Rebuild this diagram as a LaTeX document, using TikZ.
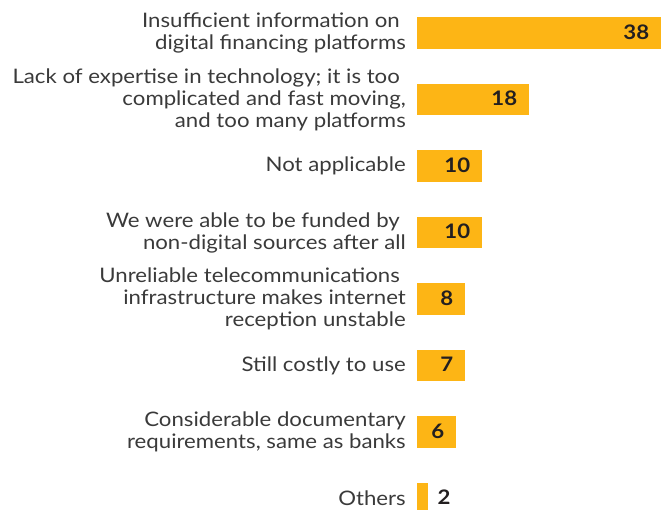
\documentclass[tikz,border=0pt]{standalone}
\usepackage{fontspec}
\setmainfont{Lato}[FakeStretch=1.11]
\usetikzlibrary{positioning}
\definecolor{barorange}{HTML}{FDB515}
\definecolor{labelgray}{HTML}{3A3A3A}
\definecolor{valuedark}{HTML}{231F20}
\tikzstyle{bar}=[rectangle,fill=barorange,draw=none,inner sep=0pt,minimum height=31.7pt,anchor=west]
\tikzstyle{category}=[align=right,inner sep=0pt,text=labelgray,font=\fontsize{20}{22}\selectfont]
\tikzstyle{value}=[inner sep=0pt,text=valuedark,font=\fontsize{20}{22}\selectfont\bfseries]
\newcommand{\brk}{\hspace*{6pt}\\}

\begin{document}
\begin{tikzpicture}[x=1pt,y=-1pt,node distance=11pt]
    \useasboundingbox (0,0) rectangle (668,510);

    % First we draw the bars with their categories
    \foreach \i/\w/\v/\label in {1/244/38/{Insufficient information on\brk digital financing platforms},
        2/112/18/{Lack of expertise in technology; it is too\brk complicated and fast moving,\hspace*{2pt}\\and too many platforms},
        3/65/10/{Not applicable},
        4/65/10/{We were able to be funded by\brk non-digital sources after all},
        5/48/8/{Unreliable telecommunications\brk infrastructure makes internet\brk reception unstable},
        6/48/7/{Still costly to use},
        7/39/6/{Considerable documentary\\requirements, same as banks},
        8/11/2/{Others}}
    {
        \node[bar,minimum width=\w pt] (bar\i) at (417,{33+66.5*(\i-1)}) {};
        \node[category,left=of bar\i] (cat\i) {\label};
    }

    % Then the values inside the bars
    \foreach \i/\v in {1/38, 2/18, 3/10, 4/10, 5/8, 6/7, 7/6}
        \node[value,anchor=east] (val\i) at ([xshift=-12pt,yshift=1pt]bar\i.east) {\v};

    % Last value does not fit, put it beside
    \node[value,anchor=west] (val8) at ([xshift=9pt,yshift=1pt]bar8.east) {2};

\end{tikzpicture}
\end{document}
